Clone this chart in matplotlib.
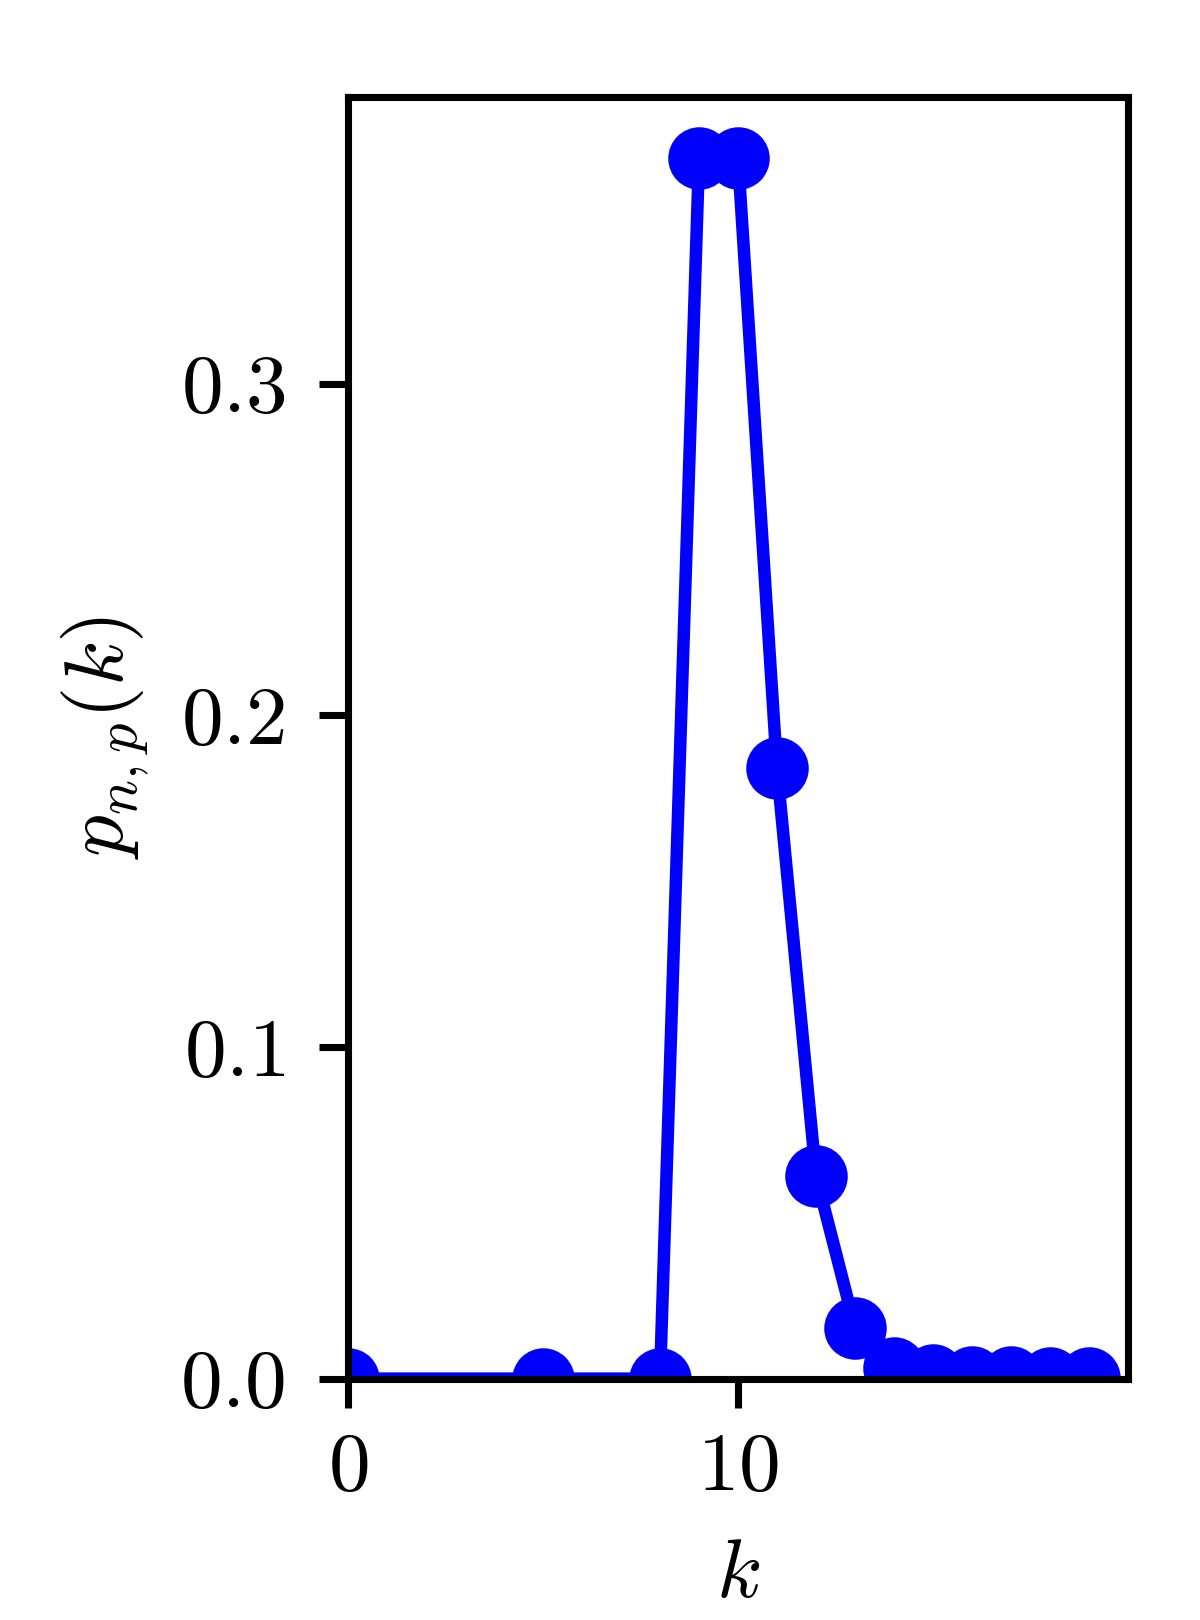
import numpy as np
import matplotlib.pyplot as plt
from matplotlib.ticker import FuncFormatter

plt.rcParams["mathtext.fontset"] = "cm"
plt.rcParams["font.family"] = "serif"
plt.rcParams["font.serif"] = ["cmr10", "DejaVu Serif"]
plt.rcParams["axes.unicode_minus"] = False

# data
k = [0, 5, 8, 9, 10, 11, 12, 13, 14, 15, 16, 17, 18, 19]
prob = [0.0, 0.0, 0.0, 0.368, 0.368, 0.184, 0.0612, 0.0154, 0.0033,
        0.001, 0.0006, 0.0004, 0.0003, 0.0002]
xticks = [0, 10]
yticks = [0.0, 0.1, 0.2, 0.3]

fig = plt.figure(figsize=(4, 5.4), dpi=300)
ax = fig.add_axes([0.29, 0.149, 0.65, 0.791])

ax.plot(k, prob, "o-", color="blue", lw=3, markersize=14)

ax.set_xlim(0, 20)
ax.set_ylim(0, 0.3864)
ax.set_xticks(xticks)
ax.set_yticks(yticks)
ax.xaxis.set_major_formatter(FuncFormatter(lambda v, p: rf"${v:.0f}$"))
ax.yaxis.set_major_formatter(FuncFormatter(lambda v, p: rf"${v:.1f}$"))
ax.tick_params(labelsize=20, width=1.7, length=7)
ax.tick_params(axis="y", pad=8)
ax.tick_params(axis="x", pad=6)
for s in ax.spines.values():
    s.set_linewidth(1.7)

ax.set_xlabel(r"$k$", fontsize=20, labelpad=8)
ax.set_ylabel(r"$p_{n,p}(k)$", fontsize=20, labelpad=7)

fig.savefig("out.png", dpi=300)
